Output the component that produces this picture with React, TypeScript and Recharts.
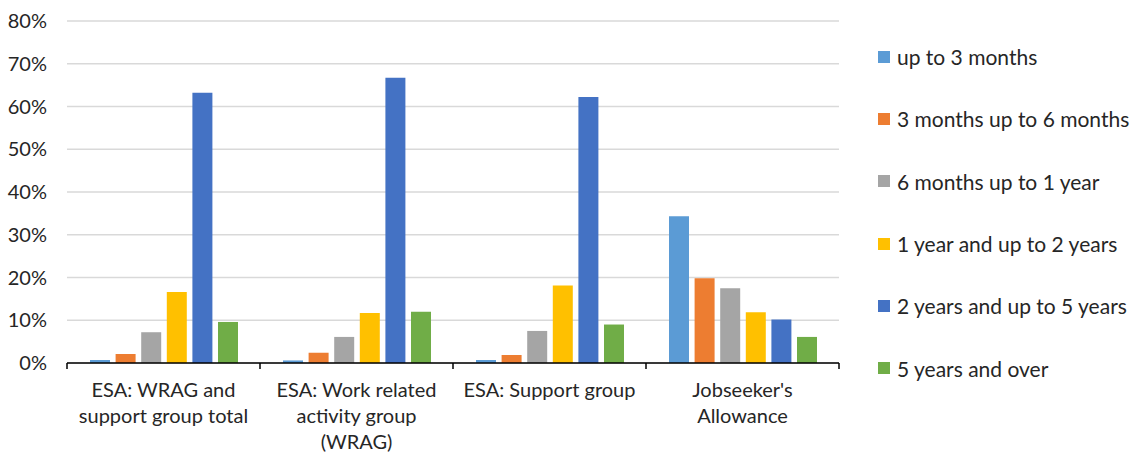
import { Bar, BarChart, CartesianGrid, XAxis, YAxis } from "recharts";

const categories = [
    "ESA: WRAG and support group total",
    "ESA: Work related activity group (WRAG)",
    "ESA: Support group",
    "Jobseeker's Allowance",
];

// how each category name breaks under the axis
const categoryLines = [
    ["ESA: WRAG and", "support group total"],
    ["ESA: Work related", "activity group", "(WRAG)"],
    ["ESA: Support group"],
    ["Jobseeker's", "Allowance"],
];

const upTo3Months = [0.7, 0.6, 0.7, 34.3];
const months3To6 = [2.1, 2.4, 1.9, 19.8];
const months6To1Year = [7.2, 6.1, 7.5, 17.5];
const years1To2 = [16.6, 11.7, 18.1, 11.9];
const years2To5 = [63.2, 66.7, 62.2, 10.2];
const years5Plus = [9.6, 12.0, 9.0, 6.1];

const yTicks = [0, 10, 20, 30, 40, 50, 60, 70, 80];

const series = [
    { key: "upTo3Months", name: "up to 3 months", color: "#5b9bd5", values: upTo3Months },
    { key: "months3To6", name: "3 months up to 6 months", color: "#ed7d31", values: months3To6 },
    { key: "months6To1Year", name: "6 months up to 1 year", color: "#a5a5a5", values: months6To1Year },
    { key: "years1To2", name: "1 year and up to 2 years", color: "#ffc000", values: years1To2 },
    { key: "years2To5", name: "2 years and up to 5 years", color: "#4472c4", values: years2To5 },
    { key: "years5Plus", name: "5 years and over", color: "#70ad47", values: years5Plus },
];

const data = categories.map((name, i) => {
    const row: Record<string, string | number> = { name };
    series.forEach((s) => { row[s.key] = s.values[i]; });
    return row;
});

const FONT = "Lato, 'Open Sans', sans-serif";
const TEXT = "#262626";

const CategoryTick = (props: any) => {
    const { x, y, payload } = props;
    const idx = categories.indexOf(payload.value);
    const half = payload.offset ?? 96.5;
    const lines = categoryLines[idx] ?? [payload.value];
    return (
        <g>
            <line x1={x - half} x2={x - half} y1={y} y2={y + 6} stroke="#000" strokeWidth={1.5} />
            {idx === categories.length - 1 && (
                <line x1={x + half} x2={x + half} y1={y} y2={y + 6} stroke="#000" strokeWidth={1.5} />
            )}
            <text x={x} y={y} textAnchor="middle" fill={TEXT} fontSize={20} fontFamily={FONT}>
                {lines.map((l, i) => (
                    <tspan key={i} x={x} y={y + 34 + i * 26}>{l}</tspan>
                ))}
            </text>
        </g>
    );
};

const App = () => {
    return (
        <div style={{ position: "absolute", left: 0, top: 0, width: 1137, height: 456, background: "#fff" }}>
            <BarChart
                width={1137}
                height={456}
                data={data}
                margin={{ top: 21, right: 298, bottom: 33, left: 0 }}
                barSize={20}
                barGap={5.6}
            >
                <CartesianGrid vertical={false} stroke="#d9d9d9" strokeWidth={1.5} />
                <XAxis
                    dataKey="name"
                    height={60}
                    interval={0}
                    axisLine={{ stroke: "#000", strokeWidth: 1.5 }}
                    tickLine={false}
                    tickSize={0}
                    tickMargin={0}
                    tick={<CategoryTick />}
                />
                <YAxis
                    width={67}
                    domain={[0, 80]}
                    ticks={yTicks}
                    interval={0}
                    axisLine={false}
                    tickLine={false}
                    tickSize={6}
                    tickMargin={14}
                    tickFormatter={(v: number) => `${v}%`}
                    tick={{ fill: TEXT, fontSize: 20, fontFamily: FONT }}
                />
                {series.map((s) => (
                    <Bar key={s.key} dataKey={s.key} name={s.name} fill={s.color} isAnimationActive={false} />
                ))}
            </BarChart>
            <div style={{ position: "absolute", left: 878, top: 25.5, fontFamily: FONT, fontSize: 21, color: TEXT }}>
                {series.map((s) => (
                    <div key={s.key} style={{ height: 62.3, display: "flex", alignItems: "center", whiteSpace: "nowrap" }}>
                        <span style={{ display: "inline-block", width: 12, height: 12, background: s.color, marginRight: 7 }} />
                        <span>{s.name}</span>
                    </div>
                ))}
            </div>
        </div>
    );
};

export default App;
